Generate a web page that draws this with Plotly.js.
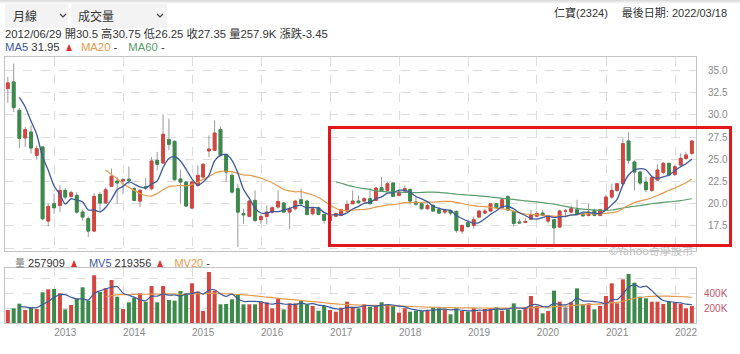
<!DOCTYPE html>
<html>
<head>
<meta charset="utf-8">
<script src="https://cdn.plot.ly/plotly-3.0.1.min.js"></script>
<style>
html,body{margin:0;padding:0;background:#fff;}
#wrap{position:relative;width:740px;height:354px;overflow:hidden;font-family:"Liberation Sans","Noto Sans CJK TC",Arial,sans-serif;color:#333;}
#chart{position:absolute;left:0;top:0;width:740px;height:354px;}
.ov{position:absolute;white-space:nowrap;font-size:11px;line-height:12px;}
.dd{position:absolute;top:4px;height:24px;background:#f3f3f3;border-radius:2px;font-size:12px;line-height:24px;color:#333;font-family:"Noto Sans CJK TC",sans-serif;}
.dd svg{position:absolute;top:9px;}
.tri{display:inline-block;width:0;height:0;border-left:3.5px solid transparent;border-right:3.5px solid transparent;border-bottom:7px solid #e0312b;}
#shade{position:absolute;left:0;top:0;width:740px;height:4px;background:linear-gradient(#d8d8d8,#fff);}
</style>
</head>
<body>
<div id="wrap">
  <div id="chart"></div>
  <div id="shade"></div>
  <div class="dd" style="left:5px;width:63px;"><span style="position:absolute;left:8px;">月線</span><svg width="8" height="6" style="left:54px;"><polyline points="1,1 4,4 7,1" fill="none" stroke="#444" stroke-width="1.2"/></svg></div>
  <div class="dd" style="left:71px;width:96px;"><span style="position:absolute;left:7px;">成交量</span><svg width="8" height="6" style="left:85px;"><polyline points="1,1 4,4 7,1" fill="none" stroke="#444" stroke-width="1.2"/></svg></div>
  <div class="ov" id="stock" style="right:13px;top:7px;">仁寶(2324)<span style="display:inline-block;width:14px;"></span>最後日期: 2022/03/18</div>
  <div class="ov" id="info" style="left:5px;top:28px;font-size:11.3px;"></div>
  <div class="ov" id="malg" style="left:5px;top:41px;font-size:11.3px;"></div>
  <div class="ov" id="vlg" style="left:15px;top:257px;"></div>
  <div class="ov" style="right:47px;top:244px;color:#bdbdbd;font-size:11px;font-family:'Noto Sans CJK TC',sans-serif;">©Yahoo奇摩股市</div>
  <div style="position:absolute;left:328px;top:126px;width:398px;height:115px;border:3px solid #e3161d;"></div>
</div>
<script>
// ---- data (monthly candles, 仁寶 2324) ----
const dates = [
'2012-04-30','2012-05-31','2012-06-30','2012-07-31','2012-08-31','2012-09-30','2012-10-31','2012-11-30','2012-12-31',
'2013-01-31','2013-02-28','2013-03-31','2013-04-30','2013-05-31','2013-06-30','2013-07-31','2013-08-31','2013-09-30','2013-10-31','2013-11-30','2013-12-31',
'2014-01-31','2014-02-28','2014-03-31','2014-04-30','2014-05-31','2014-06-30','2014-07-31','2014-08-31','2014-09-30','2014-10-31','2014-11-30','2014-12-31',
'2015-01-31','2015-02-28','2015-03-31','2015-04-30','2015-05-31','2015-06-30','2015-07-31','2015-08-31','2015-09-30','2015-10-31','2015-11-30','2015-12-31',
'2016-01-31','2016-02-29','2016-03-31','2016-04-30','2016-05-31','2016-06-30','2016-07-31','2016-08-31','2016-09-30','2016-10-31','2016-11-30','2016-12-31',
'2017-01-31','2017-02-28','2017-03-31','2017-04-30','2017-05-31','2017-06-30','2017-07-31','2017-08-31','2017-09-30','2017-10-31','2017-11-30','2017-12-31',
'2018-01-31','2018-02-28','2018-03-31','2018-04-30','2018-05-31','2018-06-30','2018-07-31','2018-08-31','2018-09-30','2018-10-31','2018-11-30','2018-12-31',
'2019-01-31','2019-02-28','2019-03-31','2019-04-30','2019-05-31','2019-06-30','2019-07-31','2019-08-31','2019-09-30','2019-10-31','2019-11-30','2019-12-31',
'2020-01-31','2020-02-29','2020-03-31','2020-04-30','2020-05-31','2020-06-30','2020-07-31','2020-08-31','2020-09-30','2020-10-31','2020-11-30','2020-12-31',
'2021-01-31','2021-02-28','2021-03-31','2021-04-30','2021-05-31','2021-06-30','2021-07-31','2021-08-31','2021-09-30','2021-10-31','2021-11-30','2021-12-31',
'2022-01-31','2022-02-28','2022-03-31'
];
const openP = [32.94,33.69,30.5,27.39,28.06,25.44,26.38,18.05,20.0,
19.81,21.5,20.83,20.94,19.06,18.31,16.93,21.05,20.08,21.95,22.55,22.55,
22.75,21.69,20.3,21.9,21.69,24.88,24.58,27.2,27.01,22.78,22.44,19.51,
22.06,23.0,25.93,26.0,28.33,25.55,23.19,21.69,18.9,18.58,20.38,18.2,
18.58,19.06,19.63,20.08,19.06,19.44,20.45,20.3,18.88,19.55,18.8,18.13,
18.6,18.69,19.18,20.0,20.3,20.3,20.56,20.38,21.8,21.5,22.33,20.94,
21.43,21.6,20.2,20.0,19.44,19.81,19.33,19.06,19.25,19.14,16.93,17.86,
17.56,18.5,18.95,19.18,20.0,19.55,20.79,19.1,17.95,17.9,18.27,18.6,
18.95,18.05,18.2,17.38,19.18,19.06,19.33,18.9,18.69,19.25,18.69,19.33,
20.75,21.5,22.25,27.05,24.69,23.56,22.44,21.5,22.67,23.53,24.54,23.3,
24.35,25.1,25.66];
const highP = [34.25,35.75,30.75,28.63,28.81,26.56,26.45,20.0,21.13,
22.06,21.76,21.5,21.31,19.33,18.58,21.2,21.31,21.88,23.94,23.0,22.89,
24.2,21.88,21.65,22.9,25.25,25.81,30.05,29.56,27.13,23.83,22.55,22.63,
24.31,24.58,27.69,29.38,28.7,25.63,23.56,22.25,19.44,20.38,21.5,18.8,
19.81,19.7,21.5,20.19,19.7,20.45,21.69,20.45,19.63,19.7,18.88,18.8,
19.0,19.44,20.38,21.5,20.94,20.75,21.76,21.88,23.0,22.44,22.44,21.5,
22.06,21.75,20.75,20.08,20.0,20.0,19.63,19.44,19.37,19.25,17.68,18.13,
18.58,19.25,19.44,20.08,20.08,20.56,20.94,19.25,18.3,18.4,19.3,19.2,
19.3,18.7,18.3,19.33,19.4,19.81,20.45,19.0,20.0,19.44,19.44,21.05,
22.25,22.33,27.31,28.03,24.88,23.75,23.0,23.19,24.43,24.69,24.58,24.4,
25.66,25.85,27.16];
const lowP = [31.33,30.31,26.25,26.38,25.63,24.95,18.13,17.45,18.88,
19.06,20.45,20.56,18.88,18.13,16.25,16.81,19.18,20.0,21.88,20.0,21.05,
22.2,20.26,19.63,21.5,21.5,23.75,24.5,26.0,22.63,20.0,19.63,19.44,
21.88,22.93,25.25,25.93,25.33,22.44,21.13,15.13,17.75,18.5,17.94,17.75,
17.68,18.88,19.44,18.95,17.19,19.25,19.93,18.69,18.69,18.69,17.75,17.9,
18.5,18.58,19.06,19.93,20.0,20.19,19.93,20.3,21.31,21.43,20.75,20.83,
21.31,19.9,19.8,19.33,19.33,19.06,18.88,18.8,18.69,16.74,16.63,17.3,
17.19,18.43,18.88,19.06,19.44,19.44,19.18,17.41,17.75,17.8,18.2,18.5,
18.6,17.8,15.43,17.3,18.45,18.95,18.69,18.5,18.58,18.58,18.58,19.18,
20.56,21.31,22.06,24.5,21.5,22.06,21.31,21.31,22.63,23.3,23.08,23.1,
24.2,24.9,25.48];
const closeP = [33.58,30.8,27.35,28.33,26.26,26.19,18.31,19.70,19.55,
21.5,20.75,21.24,19.06,18.5,16.93,20.83,20.08,21.58,23.08,22.33,22.7,
22.6,20.38,21.5,21.75,24.8,24.43,27.8,26.68,22.7,22.44,19.74,22.44,
23.19,24.43,26.15,27.95,25.44,23.56,21.31,19.06,18.75,20.3,18.13,18.58,
19.06,19.55,20.26,19.06,19.44,20.3,20.0,18.8,19.44,18.8,18.13,18.6,
18.9,19.33,19.93,20.3,20.11,20.56,20.0,21.76,21.43,22.25,20.83,21.31,
21.69,20.3,19.95,19.44,19.81,19.18,18.95,19.25,18.95,17.0,17.56,17.45,
18.2,19.18,19.18,20.0,19.55,20.45,19.29,17.79,17.85,18.0,18.8,18.9,
18.7,18.6,17.3,19.18,19.18,19.44,18.8,18.65,19.06,18.69,19.33,20.75,
21.5,22.25,26.75,24.88,23.56,22.33,21.58,22.93,23.79,24.54,23.23,24.16,
25.1,25.48,27.05];
// volume in thousands of shares
const volumeK = [173,196,257.909,173,209,187,409,449,453,
396,182,240,329,476,298,636,413,462,573,351,187,
276,338,396,284,493,276,493,307,298,427,396,529,
418,160,680,431,249,253,316,373,249,249,249,284,
276,196,329,182,262,262,293,249,227,164,227,173,
151,204,284,218,196,249,218,240,276,240,227,138,
196,151,164,160,173,209,196,182,116,196,160,151,
196,151,187,196,209,164,182,262,173,209,360,227,
129,160,431,284,209,276,462,249,262,182,227,360,
529,262,582,653,538,351,329,284,284,253,284,271,
253,196,227];
const ma5 = [null,null,31.95,30.88,29.26,27.79,25.29,23.76,22.0,21.05,19.96,20.55,
20.42,20.21,19.30,19.31,19.08,19.58,20.5,21.58,21.95,22.46,
22.22,21.90,21.79,22.21,22.57,24.06,25.09,25.28,24.81,23.87,
22.8,22.10,22.45,23.19,24.83,25.43,25.51,24.88,23.46,21.62,
20.60,19.51,18.96,18.96,19.12,19.12,19.30,19.47,19.72,19.81,
19.52,19.60,19.47,19.03,18.75,18.77,18.75,18.98,19.41,19.71,
20.05,20.18,20.55,20.77,21.2,21.25,21.52,21.50,21.28,20.82,
20.54,20.24,19.74,19.47,19.33,19.23,18.67,18.34,18.04,17.83,
17.88,18.31,18.80,19.22,19.67,19.69,19.42,18.99,18.68,18.35,
18.27,18.45,18.6,18.46,18.54,18.59,18.74,18.78,19.05,19.03,
18.93,18.91,19.30,19.87,20.50,22.12,23.23,23.79,23.95,23.82,
23.06,22.84,23.03,23.21,23.73,24.16,24.50,25.0];
const ma20 = [null,null,null,null,null,null,null,null,null,null,null,null,null,null,null,null,null,
23.8,23.3,22.8,22.25,21.84,21.5,21.15,20.93,20.86,21.16,
21.57,21.93,21.99,22.07,22.0,22.16,22.4,22.77,23.04,23.43,
23.63,23.65,23.6,23.42,23.23,23.22,23.05,22.89,22.61,22.36,
21.99,21.6,21.44,21.34,21.35,21.17,20.98,20.70,20.3,19.83,
19.5,19.29,19.22,19.28,19.35,19.36,19.46,19.62,19.74,19.87,
19.9,20.01,20.12,20.12,20.12,20.15,20.17,20.19,20.23,20.26,
20.27,20.15,20.03,19.89,19.79,19.72,19.68,19.6,19.5,19.41,
19.33,19.16,18.97,18.85,18.79,18.77,18.71,18.68,18.6,18.6,
18.61,18.73,18.79,18.85,18.9,18.87,18.88,18.92,19.01,19.1,
19.48,19.83,20.12,20.33,20.47,20.67,20.93,21.22,21.52,21.77,
22.07,22.37,22.78];
const ma60 = [null,null,null,null,null,null,null,null,null,null,null,null,null,null,null,null,null,null,null,null,
null,null,null,null,null,null,null,null,null,null,null,null,null,null,null,null,null,null,null,null,
null,null,null,null,null,null,null,null,null,null,null,null,null,null,null,null,null,
22.44,22.3,22.1,21.95,21.8,21.7,21.6,21.45,21.38,21.33,
21.3,21.3,21.28,21.25,21.24,21.27,21.3,21.3,21.28,21.22,
21.15,21.08,21.02,20.98,20.94,20.88,20.82,20.76,20.68,20.6,
20.55,20.48,20.4,20.33,20.27,20.2,20.12,20.03,19.95,19.83,
19.7,19.58,19.48,19.4,19.34,19.3,19.26,19.26,19.3,19.4,
19.52,19.62,19.72,19.8,19.9,20.0,20.08,20.15,20.2,20.28,
20.36,20.45,20.56];
const mv5 = [null,null,219.356,215,201.8,204.6,247.2,285.4,341.4,378.8,377.8,344,
320,324.6,305,395.8,430.4,457,476.4,487,397.2,369.8,
345,309.6,296.2,357.4,357.4,388.4,370.6,373.4,360.2,384.2,
391.4,413.6,386,436.6,443.6,387.6,354.6,385.8,324.4,288,
288,287.2,280.8,261.4,250.8,266.8,253.4,249,246.2,265.6,
249.6,258.6,239,232,208,188.4,183.8,207.8,206,210.6,
230.2,233,224.2,235.8,244.6,240.2,224.2,215.4,190.4,175.2,
161.8,168.8,171.4,180.4,184,175.2,179.8,170,161,163.8,
170.8,169,176.2,187.8,181.4,187.6,202.6,198,198,237.2,
246.2,219.6,217,261.4,246.2,242.6,272,332.4,296,291.6,
286.2,276.4,256,312,312,392,477.2,512.8,477.2,490.6,
431,357.2,300.2,286.8,275.2,269,251.4,246.2];
const mv20 = [null,null,null,null,null,null,null,null,null,null,null,null,null,null,null,null,null,
350,365,375,378,380,382,383,383,385,385,
388,388,385,383,383,385,390,390,395,395,
393,390,385,380,375,370,362,355,345,338,
330,322,315,308,300,292,285,278,270,262,
255,250,246,243,240,238,236,234,232,230,
228,226,224,222,218,215,212,210,208,206,
205,204,203,202,201,200,200,199,198,198,
198,199,200,201,205,208,210,212,218,222,
225,230,238,242,246,250,254,258,268,275,
290,310,328,340,350,355,358,358,357,355,
352,348,343];
const priceTicks = [15,17.5,20,22.5,25,27.5,30,32.5,35];
const priceTickText = ['','17.5','20.0','22.5','25.0','27.5','30.0','32.5','35.0'];
const volTicks = [200,400,600];
const volTickText = ['200K','400K',''];
const yearTick0 = '2013-01-01';
const infoIndex = 2; // 2012/06 candle shown in the header

// ---- styling ----
const RED = '#d4463f', GREEN = '#3b8a4b', GRAY = '#9a9a9a';
const C_MA5 = '#3d5a9c', C_MA20 = '#e49a4b', C_MA60 = '#5a9c6b';

const bodyHigh = openP.map((o,i)=>Math.max(o,closeP[i]));
const bodyLow  = openP.map((o,i)=>Math.min(o,closeP[i]));
const volColors = openP.map((o,i)=> closeP[i]>o ? RED : (closeP[i]<o ? GREEN : '#7f7f7f'));

const traces = [
  {type:'candlestick', x:dates, open:openP, high:highP, low:lowP, close:closeP, xaxis:'x', yaxis:'y',
   increasing:{line:{color:GRAY,width:1}, fillcolor:GRAY}, decreasing:{line:{color:GRAY,width:1}, fillcolor:GRAY},
   whiskerwidth:0, hoverinfo:'skip', showlegend:false},
  {type:'candlestick', x:dates, open:openP, high:bodyHigh, low:bodyLow, close:closeP, xaxis:'x', yaxis:'y',
   increasing:{line:{color:RED,width:1}, fillcolor:RED}, decreasing:{line:{color:GREEN,width:1}, fillcolor:GREEN},
   whiskerwidth:0, hoverinfo:'skip', showlegend:false},
  {type:'scatter', mode:'lines', x:dates, y:ma60, xaxis:'x', yaxis:'y', line:{color:C_MA60,width:1.2,shape:'spline',smoothing:0.8}, hoverinfo:'skip'},
  {type:'scatter', mode:'lines', x:dates, y:ma20, xaxis:'x', yaxis:'y', line:{color:C_MA20,width:1.2,shape:'spline',smoothing:0.8}, hoverinfo:'skip'},
  {type:'scatter', mode:'lines', x:dates, y:ma5, xaxis:'x', yaxis:'y', line:{color:C_MA5,width:1.3,shape:'spline',smoothing:0.8}, hoverinfo:'skip'},
  {type:'bar', x:dates, y:volumeK, xaxis:'x2', yaxis:'y2', marker:{color:volColors, line:{width:0}}, hoverinfo:'skip'},
  {type:'scatter', mode:'lines', x:dates, y:mv20, xaxis:'x2', yaxis:'y2', line:{color:C_MA20,width:1.2,shape:'spline',smoothing:0.8}, hoverinfo:'skip'},
  {type:'scatter', mode:'lines', x:dates, y:mv5, xaxis:'x2', yaxis:'y2', line:{color:C_MA5,width:1.2,shape:'spline',smoothing:0.8}, hoverinfo:'skip'}
];

const W = 740, H = 354;
const xDom = [5/W, 696/W];
const xCommon = {type:'date', domain:xDom, range:['2012-04-15','2022-04-22'], dtick:'M12', tick0:yearTick0,
  showgrid:true, gridcolor:'#dcdcdc', griddash:'dash', gridwidth:1, zeroline:false,
  showline:true, mirror:true, linecolor:'#c4c4c4', linewidth:1, fixedrange:true, automargin:false};
const layout = {
  width:W, height:H, margin:{l:0,r:0,t:0,b:0}, paper_bgcolor:'#fff', plot_bgcolor:'#fff',
  showlegend:false, boxgap:0.25, bargap:0.24, barmode:'overlay',
  xaxis:Object.assign({}, xCommon, {anchor:'y', showticklabels:false, rangeslider:{visible:false}}),
  xaxis2:Object.assign({}, xCommon, {anchor:'y2', matches:'x', showticklabels:true, tickformat:'%Y',
    ticks:'', ticklabelshift:11, tickfont:{family:'Liberation Sans, Arial, sans-serif', size:10, color:'#8a8a8a'}, rangeslider:{visible:false}}),
  yaxis:{domain:[1-251/H, 1-57/H], range:[14.69,36.49], side:'right', anchor:'x', tickvals:priceTicks, ticktext:priceTickText,
    showgrid:true, gridcolor:'#dcdcdc', griddash:'dash', zeroline:false, showline:true, mirror:true, linecolor:'#c4c4c4',
    ticks:'', ticklabelstandoff:9, tickfont:{family:'Liberation Sans, Arial, sans-serif', size:10, color:'#8a8a8a'}, fixedrange:true, automargin:false},
  yaxis2:{domain:[1-323/H, 1-268/H], range:[0,733.3], side:'right', anchor:'x2', tickvals:volTicks, ticktext:volTickText,
    showgrid:true, gridcolor:'#dcdcdc', griddash:'dash', zeroline:false, showline:true, mirror:true, linecolor:'#c4c4c4',
    ticks:'', ticklabelstandoff:5, tickfont:{family:'Liberation Sans, Arial, sans-serif', size:10, color:'#c0566a'}, fixedrange:true, automargin:false}
};

Plotly.newPlot('chart', traces, layout, {staticPlot:true, displayModeBar:false});

// ---- header texts built from the data ----
const k = infoIndex;
const d = dates[k].split('-');
const chg = (closeP[k]-closeP[k-1]).toFixed(2);
document.getElementById('info').textContent =
  d[0]+'/'+d[1]+'/29 開'+openP[k]+' 高'+highP[k]+' 低'+lowP[k]+' 收'+closeP[k]+' 量'+volumeK[k].toFixed(1)+'K 漲跌'+chg;
document.getElementById('malg').innerHTML =
  '<span style="color:'+C_MA5+'">MA5</span> '+ma5[k].toFixed(2)+' &nbsp;<span class="tri"></span>' +
  '<span style="display:inline-block;width:9px"></span><span style="color:'+C_MA20+'">MA20</span> -' +
  '<span style="display:inline-block;width:11px"></span><span style="color:'+C_MA60+'">MA60</span> -';
document.getElementById('vlg').innerHTML =
  '<span style="color:#777;font-family:Noto Sans CJK TC;font-size:10px">量</span> '+Math.round(volumeK[k]*1000)+' &nbsp;<span class="tri"></span>' +
  '<span style="display:inline-block;width:12px"></span><span style="color:'+C_MA5+'">MV5</span> '+Math.round(mv5[k]*1000)+' &nbsp;<span class="tri"></span>' +
  '<span style="display:inline-block;width:11px"></span><span style="color:'+C_MA20+'">MV20</span> -';
</script>
</body>
</html>
